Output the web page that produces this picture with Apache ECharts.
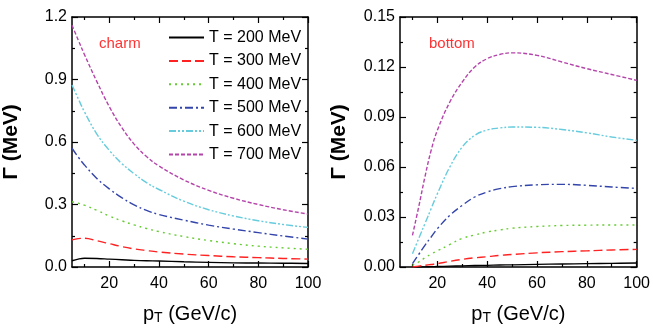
<!DOCTYPE html>
<html>
<head>
<meta charset="utf-8">
<script src="https://cdn.jsdelivr.net/npm/echarts@6/dist/echarts.min.js"></script>
<style>
  html, body { margin: 0; padding: 0; background: #fff; }
  #chart { width: 653px; height: 330px; }
</style>
</head>
<body>
<div id="chart"></div>
<script>
// charm panel, pT in GeV/c
const ptCharm = [5, 7.5, 10, 15, 20, 25, 30, 35, 40, 50, 60, 70, 80, 90, 100];
const charm200 = [0.030, 0.038, 0.042, 0.041, 0.038, 0.035, 0.032, 0.030, 0.029, 0.025, 0.022, 0.020, 0.019, 0.018, 0.017];
const charm300 = [0.130, 0.136, 0.138, 0.126, 0.112, 0.098, 0.087, 0.079, 0.072, 0.062, 0.055, 0.049, 0.045, 0.041, 0.038];
const charm400 = [0.313, 0.306, 0.297, 0.272, 0.245, 0.222, 0.202, 0.185, 0.170, 0.146, 0.127, 0.112, 0.100, 0.092, 0.085];
const charm500 = [0.570, 0.528, 0.490, 0.425, 0.375, 0.333, 0.298, 0.272, 0.252, 0.225, 0.201, 0.182, 0.165, 0.149, 0.134];
const charm600 = [0.874, 0.808, 0.745, 0.638, 0.560, 0.497, 0.448, 0.405, 0.372, 0.316, 0.275, 0.245, 0.222, 0.204, 0.190];
const charm700 = [1.160, 1.090, 1.020, 0.890, 0.770, 0.670, 0.590, 0.530, 0.485, 0.418, 0.368, 0.330, 0.300, 0.275, 0.254];

// bottom panel
const ptBottom = [10, 12.5, 15, 17.5, 20, 25, 30, 35, 40, 45, 50, 60, 70, 80, 90, 100];
const bottom200 = [0, 0, 0.0001, 0.0002, 0.0003, 0.0005, 0.0007, 0.0009, 0.0010, 0.0012, 0.0013, 0.0016, 0.0018, 0.0020, 0.0022, 0.0024];
const bottom300 = [0, 0.0005, 0.0010, 0.0015, 0.0020, 0.0034, 0.0046, 0.0055, 0.0062, 0.0070, 0.0075, 0.0085, 0.0092, 0.0097, 0.0102, 0.0106];
const bottom400 = [0.001, 0.003, 0.0055, 0.0078, 0.0097, 0.0135, 0.0172, 0.0192, 0.0210, 0.0222, 0.0233, 0.0243, 0.0249, 0.0251, 0.0252, 0.0252];
const bottom500 = [0.002, 0.0075, 0.013, 0.018, 0.023, 0.031, 0.037, 0.042, 0.045, 0.047, 0.0482, 0.0493, 0.0496, 0.049, 0.048, 0.0472];
const bottom600 = [0.008, 0.017, 0.026, 0.035, 0.044, 0.060, 0.072, 0.079, 0.0822, 0.0834, 0.084, 0.0838, 0.0825, 0.0805, 0.078, 0.076];
const bottom700 = [0.019, 0.036, 0.054, 0.070, 0.082, 0.099, 0.111, 0.120, 0.125, 0.1275, 0.1285, 0.127, 0.123, 0.119, 0.1155, 0.112];

const names = ['T = 200 MeV', 'T = 300 MeV', 'T = 400 MeV', 'T = 500 MeV', 'T = 600 MeV', 'T = 700 MeV'];
const majorTicks = [20, 40, 60, 80, 100];
const minorTicks = [10, 30, 50, 70, 90];

const FONT = '"Liberation Sans", Arial, sans-serif';
const colors = ['#000000', '#ff2222', '#66cc33', '#3344aa', '#66ccdd', '#b444aa'];
const dashes = ['solid', [9, 4], [2, 4], [8, 3, 2, 3], [7, 2, 2, 2, 2, 2], [4, 2]];

const myChart = echarts.init(document.getElementById('chart'));

function pairs(xs, ys) {
  return xs.map((x, i) => [x, ys[i]]);
}

function xAx(grid, pos, ticks, len, showLine, withLabel) {
  return {
    type: 'value', gridIndex: grid, position: pos, min: 5, max: 100,
    axisLine: { show: showLine, onZero: false, lineStyle: { color: '#000', width: 1.5 } },
    axisTick: { show: true, inside: true, length: len, customValues: ticks, lineStyle: { color: '#000', width: 1.2 } },
    axisLabel: withLabel ? {
      show: true, customValues: majorTicks, margin: 9,
      color: '#000', fontSize: 16, fontFamily: FONT
    } : { show: false },
    splitLine: { show: false },
    name: withLabel ? '{a|p}{b|T}{a| (GeV/c)}' : '',
    nameLocation: 'middle', nameGap: 31,
    nameTextStyle: {
      rich: {
        a: { fontSize: 20, fontFamily: FONT, color: '#000', lineHeight: 20, verticalAlign: 'top' },
        b: { fontSize: 14, fontFamily: FONT, color: '#000', lineHeight: 14, padding: [14, 0, 0, 0], verticalAlign: 'bottom' }
      }
    }
  };
}

function yAx(grid, pos, max, interval, digits, withLabel) {
  return {
    type: 'value', gridIndex: grid, position: pos, min: 0, max: max, interval: interval,
    axisLine: { show: true, onZero: false, lineStyle: { color: '#000', width: 1.5 } },
    axisTick: { show: true, inside: true, length: 6, lineStyle: { color: '#000', width: 1.2 } },
    minorTick: { show: true, splitNumber: 2, length: 3, lineStyle: { color: '#000', width: 1.2 } },
    axisLabel: withLabel ? {
      show: true, margin: 5, color: '#000', fontSize: 16, fontFamily: FONT,
      formatter: v => v.toFixed(digits)
    } : { show: false },
    splitLine: { show: false },
    name: withLabel ? 'Γ (MeV)' : '',
    nameLocation: 'middle', nameGap: 50,
    nameTextStyle: { fontSize: 21, fontWeight: 'bold', fontFamily: FONT, color: '#000' }
  };
}

const charmSets = [charm200, charm300, charm400, charm500, charm600, charm700];
const bottomSets = [bottom200, bottom300, bottom400, bottom500, bottom600, bottom700];

const series = [];
charmSets.forEach((ys, i) => {
  series.push({
    name: names[i], type: 'line', xAxisIndex: 0, yAxisIndex: 0,
    data: pairs(ptCharm, ys), smooth: 0.4, symbol: 'none',
    lineStyle: { color: colors[i], width: 1.4, type: dashes[i] },
    itemStyle: { color: colors[i] }
  });
});
bottomSets.forEach((ys, i) => {
  series.push({
    name: names[i], type: 'line', xAxisIndex: 4, yAxisIndex: 2,
    data: pairs(ptBottom, ys), smooth: 0.4, symbol: 'none',
    lineStyle: { color: colors[i], width: 1.4, type: dashes[i] },
    itemStyle: { color: colors[i] }
  });
});

const option = {
  animation: false,
  backgroundColor: '#fff',
  grid: [
    { left: 70, top: 17, width: 238, height: 250 },
    { left: 400, top: 17, width: 238, height: 250 }
  ],
  legend: {
    data: names,
    orient: 'vertical',
    left: 168, top: 29, padding: 0,
    itemWidth: 35, itemHeight: 12, itemGap: 6.4,
    itemStyle: { opacity: 0 },
    textStyle: { fontSize: 16, fontFamily: FONT, color: '#000', lineHeight: 17 }
  },
  graphic: [
    { type: 'text', left: 99, top: 36, style: { text: 'charm', fontSize: 15, fontFamily: FONT, fill: '#ff3333' } },
    { type: 'text', left: 429, top: 36, style: { text: 'bottom', fontSize: 15, fontFamily: FONT, fill: '#ff3333' } }
  ],
  xAxis: [
    xAx(0, 'bottom', majorTicks, 6, true, true),
    xAx(0, 'bottom', minorTicks, 3, false, false),
    xAx(0, 'top', majorTicks, 6, true, false),
    xAx(0, 'top', minorTicks, 3, false, false),
    xAx(1, 'bottom', majorTicks, 6, true, true),
    xAx(1, 'bottom', minorTicks, 3, false, false),
    xAx(1, 'top', majorTicks, 6, true, false),
    xAx(1, 'top', minorTicks, 3, false, false)
  ],
  yAxis: [
    yAx(0, 'left', 1.2, 0.3, 1, true),
    yAx(0, 'right', 1.2, 0.3, 1, false),
    yAx(1, 'left', 0.15, 0.03, 2, true),
    yAx(1, 'right', 0.15, 0.03, 2, false)
  ],
  series: series
};

myChart.setOption(option);
</script>
</body>
</html>
